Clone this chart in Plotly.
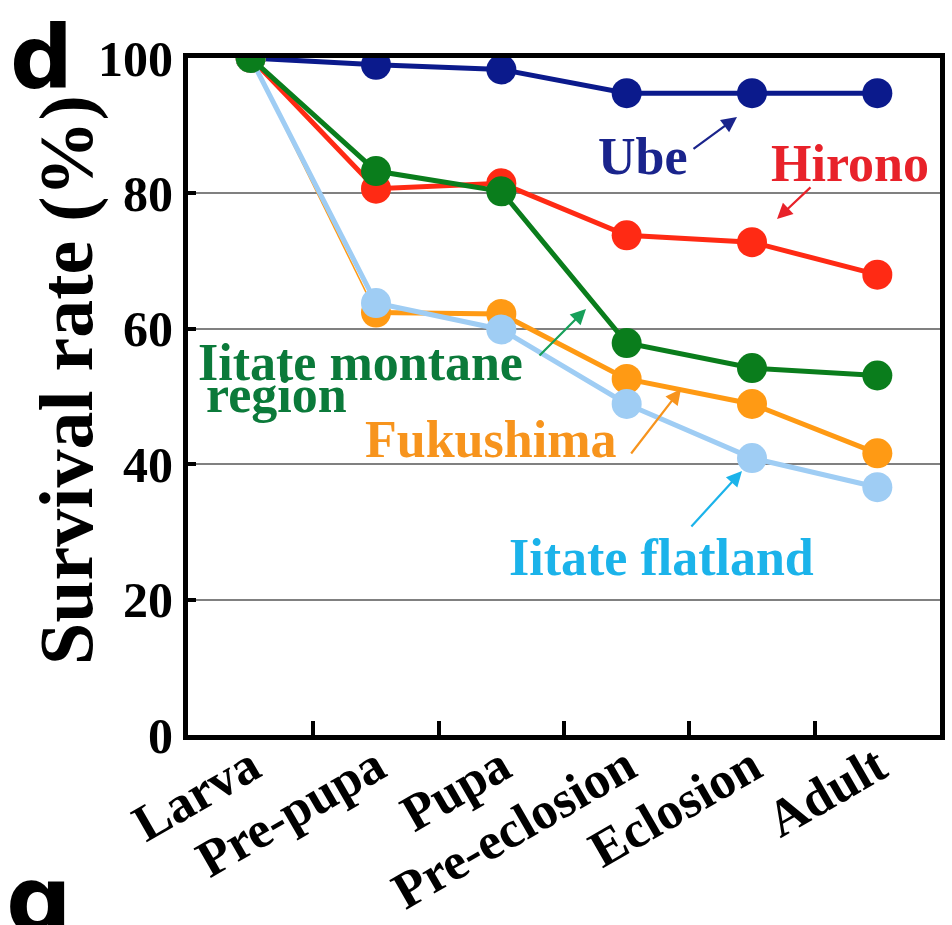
import plotly.graph_objects as go

# Developmental stages and survival rate (%) per collection site
stages = ["Larva", "Pre-pupa", "Pupa", "Pre-eclosion", "Eclosion", "Adult"]
ube = [100, 99.0, 98.3, 94.8, 94.8, 94.8]
hirono = [100, 80.7, 81.5, 73.8, 72.8, 68.0]
fukushima = [100, 62.4, 62.2, 52.6, 48.9, 41.6]
iitate_flatland = [100, 63.8, 59.9, 48.9, 40.9, 36.6]
iitate_montane = [100, 83.3, 80.3, 57.9, 54.2, 53.1]

W, H = 952, 925
L, R, T, B = 188, 12, 58, 190
SERIF = "Liberation Serif"


def px(x):
    return (x - L) / (W - L - R)


def py(y):
    return (H - B - y) / (H - T - B)


fig = go.Figure()


def add_series(vals, color, name, width=5, first_width=None):
    if first_width is not None:
        # thinner first leg from Larva to Pre-pupa
        fig.add_trace(go.Scatter(x=stages[:2], y=vals[:2], mode="lines",
                                 line=dict(color=color, width=first_width),
                                 showlegend=False, hoverinfo="skip"))
        fig.add_trace(go.Scatter(x=stages[1:], y=vals[1:], mode="lines",
                                 line=dict(color=color, width=width),
                                 showlegend=False, hoverinfo="skip"))
        fig.add_trace(go.Scatter(x=stages, y=vals, mode="markers", name=name,
                                 marker=dict(color=color, size=30),
                                 showlegend=False))
    else:
        fig.add_trace(go.Scatter(x=stages, y=vals, mode="lines+markers", name=name,
                                 line=dict(color=color, width=width),
                                 marker=dict(color=color, size=30),
                                 showlegend=False))


add_series(ube, "#0b1a8c", "Ube")
add_series(hirono, "#ff2a14", "Hirono", width=5)
add_series(fukushima, "#ff9a14", "Fukushima", first_width=1.5)
add_series(iitate_flatland, "#9fcdf4", "Iitate flatland", width=5)
add_series(iitate_montane, "#0a7d1c", "Iitate montane region")


def text_at(cx, cy, text, size, color, family=SERIF, xanchor="center",
            yanchor="middle", angle=0):
    fig.add_annotation(x=px(cx), y=py(cy), xref="paper", yref="paper",
                       text=text, showarrow=False, textangle=angle,
                       xanchor=xanchor, yanchor=yanchor,
                       font=dict(family=family, size=size, color=color, weight="bold"))


def arrow(tail, tip, color):
    fig.add_annotation(x=px(tip[0]), y=py(tip[1]), xref="paper", yref="paper",
                       ax=tail[0] - tip[0], ay=tail[1] - tip[1],
                       axref="pixel", ayref="pixel",
                       text="", showarrow=True, arrowhead=2, arrowsize=1.4,
                       arrowwidth=2.2, arrowcolor=color)


# Site labels with arrows pointing at their curves
labels = [
    ("Ube", "#1a248c", 643, 156, (692, 150), (737, 117)),
    ("Hirono", "#e8222a", 850, 164, (812, 186), (777, 219)),
    ("Fukushima", "#f7941d", 490, 440, (630, 455), (681, 389)),
    ("Iitate flatland", "#1bb3ea", 661, 557, (690, 528), (742, 471)),
]
for text, color, cx, cy, tail, tip in labels:
    text_at(cx, cy, text, 52, color)
    arrow(tail, tip, color)

green_lbl = "#0b7a3a"
text_at(196, 362, "Iitate montane", 52, green_lbl, xanchor="left")
text_at(204, 394, "region", 52, green_lbl, xanchor="left")
arrow((538, 357), (586, 309), "#17a05a")

# Y-axis title
text_at(66, 380, "Survival rate (%)", 76, "black", angle=-90)

# Panel letters
text_at(8, 56, "d", 88, "black", family="DejaVu Sans", xanchor="left")
text_at(4, 846, "g", 92, "black", family="DejaVu Sans", xanchor="left", yanchor="top")

fig.update_layout(
    width=W, height=H,
    margin=dict(l=L, r=R, t=T, b=B),
    paper_bgcolor="white", plot_bgcolor="white",
    font=dict(family=SERIF, color="black"),
)
fig.update_xaxes(
    type="category", range=[-0.5, 5.5], automargin=False,
    showline=True, linecolor="black", linewidth=5, mirror=True,
    ticks="inside", tickson="boundaries", ticklen=14, tickwidth=4, tickcolor="black",
    showgrid=False, tickangle=-30, ticklabelstandoff=-24,
    tickfont=dict(family=SERIF, size=52, color="black", weight="bold"),
)
fig.update_yaxes(
    range=[0, 100], tickmode="array", tickvals=[0, 20, 40, 60, 80, 100],
    automargin=False,
    showline=True, linecolor="black", linewidth=5, mirror=True,
    ticks="inside", ticklen=8, tickwidth=4, tickcolor="black",
    showgrid=True, gridcolor="#808080", gridwidth=2, zeroline=False,
    tickfont=dict(family=SERIF, size=50, color="black", weight="bold"),
)

fig.write_html("out.html")
